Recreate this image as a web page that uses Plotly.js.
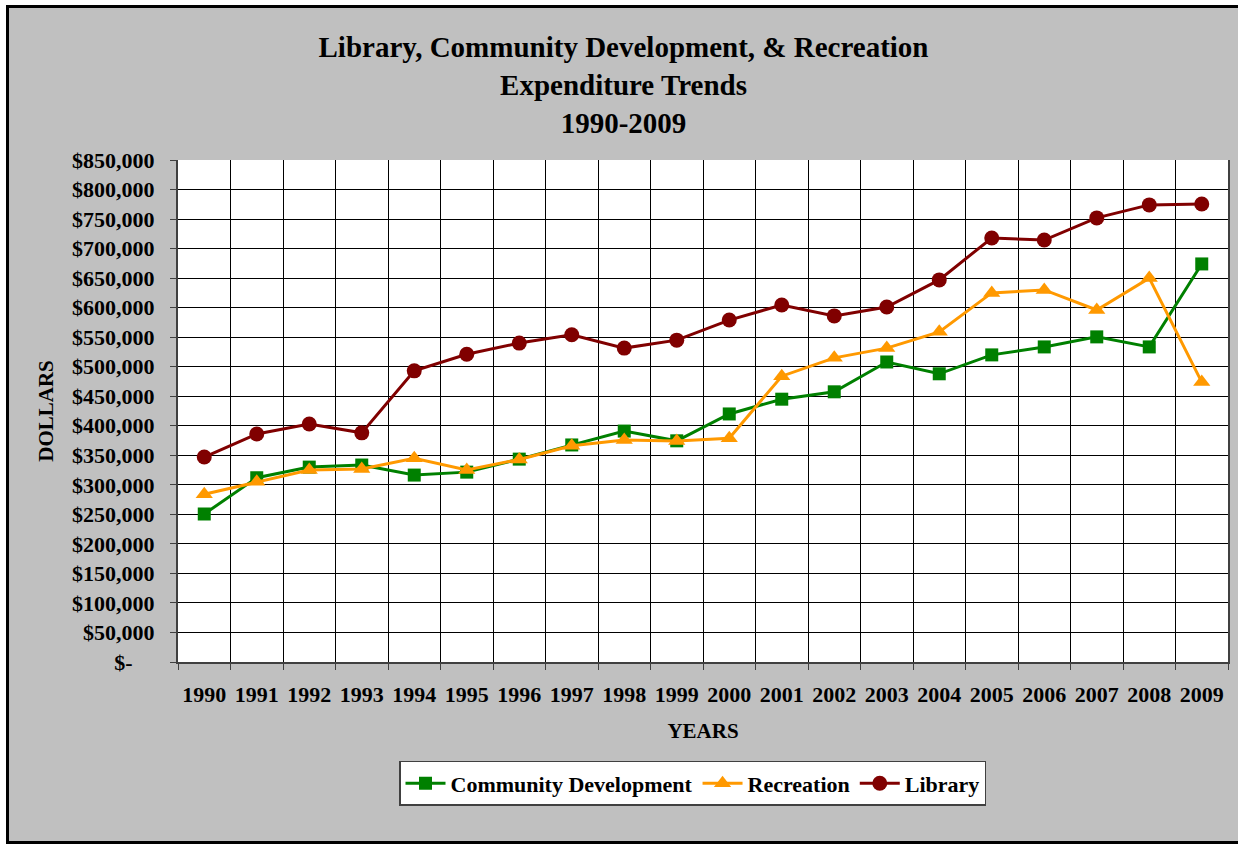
<!DOCTYPE html>
<html>
<head>
<meta charset="utf-8">
<script src="https://cdn.plot.ly/plotly-3.0.1.min.js"></script>
<style>
  body { margin: 0; background: #ffffff; }
  #chart {
    position: absolute;
    left: 6px;
    top: 5px;
    width: 1229px;
    height: 833px;
    border: 3px solid #000000;
    border-right: none;
  }
</style>
</head>
<body>
<div id="chart"></div>
<script>
// years on the category axis
const years = ['1990', '1991', '1992', '1993', '1994', '1995', '1996', '1997', '1998', '1999',
               '2000', '2001', '2002', '2003', '2004', '2005', '2006', '2007', '2008', '2009'];

// expenditure values (dollars)
const communityDevelopment = [250600, 312000, 330000, 333500, 316500, 321500, 343500, 367500, 391000, 374500,
                              420000, 445000, 457500, 508000, 488000, 520000, 533500, 550500, 533500, 674000];
const recreation = [284000, 305000, 325000, 327000, 345000, 325000, 343000, 366000, 376000, 374000,
                    379000, 484000, 515000, 531500, 559000, 625000, 630000, 596000, 650000, 474000];
const library = [347000, 386000, 403000, 388000, 493000, 521000, 540000, 554000, 531500, 545000,
                 579000, 604500, 586000, 601000, 647000, 718000, 714500, 752000, 774000, 775500];

// y-axis ticks, every $50,000
const yTickVals = [0, 50000, 100000, 150000, 200000, 250000, 300000, 350000, 400000, 450000,
                   500000, 550000, 600000, 650000, 700000, 750000, 800000, 850000];
const yTickText = yTickVals.map(v => v === 0 ? '$-\u00a0\u00a0\u00a0\u00a0' : '$' + v.toLocaleString('en-US'));

const font = 'Liberation Serif, Times New Roman, serif';

const traces = [
    {
        x: years, y: communityDevelopment, name: 'Community Development',
        type: 'scatter', mode: 'lines+markers',
        line: { color: '#008000', width: 3 },
        marker: { symbol: 'square', size: 13, color: '#008000' }
    },
    {
        x: years, y: recreation, name: 'Recreation',
        type: 'scatter', mode: 'lines+markers',
        line: { color: '#FF9900', width: 3 },
        marker: { symbol: 'triangle-up', size: 15, color: '#FF9900' }
    },
    {
        x: years, y: library, name: 'Library',
        type: 'scatter', mode: 'lines+markers',
        line: { color: '#800000', width: 3 },
        marker: { symbol: 'circle', size: 15, color: '#800000' }
    }
];

const layout = {
    width: 1229,
    height: 833,
    paper_bgcolor: '#C0C0C0',
    plot_bgcolor: '#FFFFFF',
    margin: { l: 169, r: 10, t: 152, b: 179 },
    font: { family: font, color: '#000000' },
    title: {
        text: '<b>Library, Community Development, & Recreation<br>Expenditure Trends<br>1990-2009</b>',
        font: { family: font, size: 29, color: '#000000' },
        x: 0.5, xref: 'container', xanchor: 'center',
        y: 0.941, yref: 'container', yanchor: 'middle'
    },
    xaxis: {
        type: 'category',
        range: [-0.5, 19.5],
        tickson: 'boundaries',
        tickangle: 0,
        showgrid: true,
        gridcolor: '#000000',
        gridwidth: 1,
        ticks: 'outside',
        ticklen: 6,
        tickcolor: '#404040',
        showline: true,
        linecolor: '#404040',
        linewidth: 2,
        mirror: false,
        tickfont: { family: font, size: 22, color: '#000000', weight: 'bold' },
        ticklabelstandoff: 12,
        title: { text: '<b>YEARS</b>', font: { family: font, size: 21 }, standoff: 17 },
        fixedrange: true
    },
    yaxis: {
        range: [0, 850000],
        tickvals: yTickVals,
        ticktext: yTickText,
        showgrid: true,
        gridcolor: '#000000',
        gridwidth: 1,
        zeroline: false,
        ticks: 'outside',
        ticklen: 6,
        tickcolor: '#404040',
        showline: true,
        linecolor: '#404040',
        linewidth: 2,
        mirror: true,
        tickfont: { family: font, size: 22, color: '#000000', weight: 'bold' },
        ticklabelstandoff: 11,
        title: { text: '<b>DOLLARS</b>', font: { family: font, size: 21 }, standoff: 13 },
        fixedrange: true
    },
    legend: {
        orientation: 'h',
        x: 0.49, xanchor: 'center',
        y: -0.197, yanchor: 'top',
        bgcolor: '#FFFFFF',
        bordercolor: '#404040',
        borderwidth: 1.5,
        font: { family: font, size: 22, color: '#000000', weight: 'bold' },
        itemwidth: 40
    },
    showlegend: true
};

Plotly.newPlot('chart', traces, layout, { displayModeBar: false, staticPlot: true });
</script>
</body>
</html>
